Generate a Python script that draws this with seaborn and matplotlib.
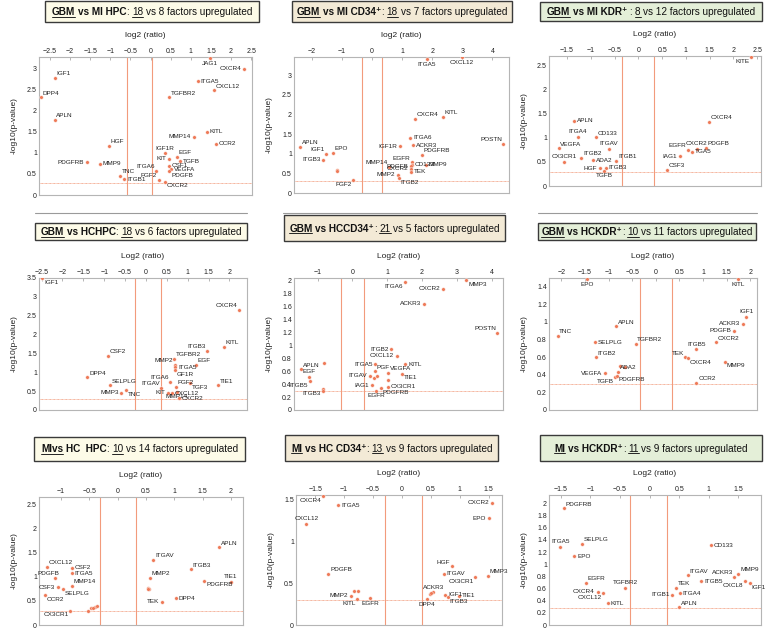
import numpy as np
import pandas as pd
import seaborn as sns
import matplotlib.pyplot as plt
from matplotlib.patches import Rectangle
from matplotlib.lines import Line2D
from matplotlib.ticker import FuncFormatter

W, H = 766, 631
FAM = ['Liberation Sans', 'DejaVu Sans']
PT_COLOR = '#ee7a58'
LINE_COLOR = '#f29b7c'
TS = 7.2

# ---------------- data ----------------
# panel 1: GBM vs MI HPC
p1_genes = ['JAG1', 'CXCR4', 'IGF1', 'ITGA5', 'DPP4', 'CXCL12', 'TGFBR2', 'APLN', 'MMP14', 'KITL',
            'CCR2', 'HGF', 'IGF1R', 'EGF', 'KIT', 'TGFB', 'CSF1', 'VEGFA', 'PDGFB', 'ITGA6',
            'PDGFRB', 'MMP9', 'TNC', 'ITGB1', 'FGF2', 'CXCR2']
p1_log2 = [1.47, 2.33, -2.38, 1.17, -2.72, 1.58, 0.47, -2.38, 1.08, 1.40,
           1.62, -1.04, 0.36, 0.65, 0.47, 0.73, 0.45, 0.51, 0.47, 0.14,
           -1.58, -1.26, -0.75, -0.65, 0.20, 0.35]
p1_logp = [3.26, 3.00, 2.78, 2.70, 2.32, 2.49, 2.32, 1.78, 1.39, 1.50,
           1.22, 1.17, 0.99, 0.90, 0.86, 0.80, 0.70, 0.61, 0.57, 0.58,
           0.78, 0.74, 0.46, 0.38, 0.36, 0.32]
p1_lab = ['b', 'l', 'ur', 'r', 'ur', 'ur', 'ur', 'ur', 'l', 'r',
          'r', 'ur', 'u', 'ur', 'l', 'r', 'r', 'r', 'br', 'ul',
          'l', 'r', 'ur', 'r', 'ul', 'br']

# panel 2: GBM vs MI CD34+
p2_genes = ['ITGA5', 'CXCL12', 'CXCR4', 'KITL', 'ITGA6', 'POSTN', 'APLN', 'IGF1R', 'ACKR3', 'IGF1',
            'EPO', 'PDGFRB', 'ITGB3', '', '', 'FGF2', 'EGFR', 'CD133', 'PDGFB', 'CXCR2',
            'MMP14', 'MMP9', 'TEK', 'MMP2', 'ITGB2']
p2_log2 = [1.82, 2.98, 1.41, 2.35, 1.27, 4.36, -2.40, 0.91, 1.37, -1.55,
           -1.30, 1.65, -1.62, -1.18, -1.16, -0.63, 1.31, 1.33, 1.29, 1.30,
           0.55, 1.79, 1.29, 0.85, 0.88]
p2_logp = [3.40, 3.46, 1.88, 1.94, 1.41, 1.25, 1.17, 1.19, 1.22, 0.99,
           1.03, 0.97, 0.84, 0.59, 0.56, 0.33, 0.78, 0.72, 0.68, 0.62,
           0.67, 0.72, 0.54, 0.46, 0.37]
p2_lab = ['b', 'b', 'ur', 'ur', 'r', 'ul', 'ur', 'l', 'r', 'ul',
          'ur', 'ur', 'l', '', '', 'bl', 'ul', 'r', 'l', 'l',
          'ul', 'r', 'r', 'l', 'br']

# panel 3: GBM vs MI KDR+
p3_genes = ['KITE', 'CXCR4', 'APLN', 'ITGA4', 'CD133', 'ITGAV', 'VEGFA', 'CX3CR1', 'ITGB2', 'ADA2',
            'ITGB1', 'HGF', 'ITGB3', 'TGFB', 'CXCR2', 'EGFR', 'PDGFB', 'TGA5', 'IAG1', 'CSF3']
p3_log2 = [2.38, 1.49, -1.35, -1.28, -0.90, -0.62, -1.68, -1.56, -1.20, -0.95,
           -0.46, -0.81, -0.68, -0.72, 1.23, 1.04, 1.42, 1.13, 0.88, 0.60]
p3_logp = [2.68, 1.33, 1.35, 1.02, 1.01, 0.77, 0.78, 0.50, 0.59, 0.54,
           0.52, 0.37, 0.38, 0.32, 0.77, 0.75, 0.79, 0.71, 0.62, 0.33]
p3_lab = ['bl', 'ur', 'r', 'u', 'ur', 'u', 'ur', 'u', 'ur', 'r',
          'ur', 'l', 'r', 'b', 'u', 'ul', 'ur', 'r', 'l', 'ur']

# panel 4: GBM vs HCHPC
p4_genes = ['IGF1', 'CXCR4', 'ITGB3', 'KITL', 'CSF2', 'TGFBR2', 'MMP2', 'ITGA5', 'EGF', 'GF1R',
            'DPP4', 'ITGA6', 'FGF2', 'TGF3', 'TIE1', 'SELPLG', 'ITGAV', 'MMP3', 'TNC', 'KIT',
            'CXCL12', 'MMP14', 'CXCR2']
p4_log2 = [-2.48, 2.23, 1.46, 1.86, -0.90, 0.68, 0.69, 0.70, 1.19, 0.70,
           -1.40, 0.58, 0.72, 1.06, 1.72, -0.86, 0.36, -0.59, -0.47, 0.54,
           0.62, 0.74, 0.78]
p4_logp = [3.49, 2.66, 1.56, 1.67, 1.44, 1.36, 1.20, 1.13, 1.20, 1.05,
           0.87, 0.75, 0.62, 0.71, 0.65, 0.65, 0.59, 0.46, 0.53, 0.46,
           0.44, 0.49, 0.31]
p4_lab = ['br', 'ul', 'ul', 'ur', 'ur', 'ur', 'ul', 'r', 'ur', 'br',
          'ur', 'ul', 'ur', 'br', 'ur', 'ur', 'ul', 'l', 'br', 'l',
          'r', 'b', 'r']

# panel 5: GBM vs HCCD34+
p5_genes = ['MMP3', 'ITGA6', 'CXCR2', 'ACKR3', 'POSTN', 'ITGB2', 'CXCL12', 'APLN', '', 'EGF',
            'ITGB5', 'ITGB3', '', 'KITL', 'ITGA5', 'PGF', 'VEGFA', 'ITGAV', '', '',
            'TIE1', '', 'IAG1', 'CX3CR1', 'PDGFRB', 'EGFR']
p5_log2 = [3.28, 1.50, 2.61, 2.06, 4.17, 1.12, 1.28, -1.47, -0.82, -1.25,
           -1.23, -0.86, -0.85, 1.52, 0.66, 0.64, 1.02, 0.50, 0.62, 0.70,
           1.44, 1.02, 0.55, 1.02, 0.83, 0.69]
p5_logp = [2.01, 1.98, 1.87, 1.64, 1.19, 0.94, 0.84, 0.63, 0.73, 0.51,
           0.45, 0.32, 0.30, 0.71, 0.71, 0.60, 0.57, 0.53, 0.50, 0.52,
           0.56, 0.47, 0.38, 0.36, 0.34, 0.30]
p5_lab = ['br', 'bl', 'l', 'l', 'ul', 'l', 'l', 'ur', '', 'u',
          'bl', 'bl', '', 'r', 'l', 'ur', 'ur', 'l', '', '',
          'br', '', 'l', 'r', 'br', 'b']

# panel 6: GBM vs HCKDR+
p6_genes = ['EPO', 'KITL', 'IGF1', 'ACKR3', 'PDGFB', 'APLN', 'TNC', 'CXCR2', 'SELPLG', 'TGFBR2',
            'ITGB5', 'ITGB2', 'TEK', 'CXCR4', 'MMP9', 'VEGFA', '', '', 'ADA2', 'TGFB',
            'PDGFRB', 'CCR2']
p6_log2 = [-1.46, 1.74, 1.91, 1.84, 1.66, -0.84, -2.08, 1.27, -1.28, -0.43,
           0.86, -1.27, 0.62, 0.69, 1.47, -1.08, -0.76, -0.65, -0.80, -0.86,
           -0.83, 0.86]
p6_logp = [1.49, 1.49, 1.06, 0.98, 0.90, 0.95, 0.84, 0.77, 0.77, 0.75,
           0.69, 0.60, 0.60, 0.59, 0.55, 0.42, 0.50, 0.49, 0.43, 0.37,
           0.39, 0.31]
p6_lab = ['b', 'b', 'u', 'l', 'l', 'ur', 'ur', 'ur', 'r', 'ur',
          'u', 'ur', 'ul', 'br', 'br', 'l', '', '', 'ur', 'bl',
          'br', 'ur']

# panel 7: MI vs HC HPC
p7_genes = ['APLN', 'ITGAV', 'ITGB3', 'CXCL12', 'CSF2', 'ITGA5', 'PDGFB', 'MMP2', 'TIE1', 'PDGFRB',
            'CSF3', 'MMP14', 'SELPLG', '', '', '', 'CCR2', 'DPP4', 'TEK', '',
            '', '', '', '', 'CX3CR1']
p7_log2 = [1.79, 0.63, 1.29, -1.25, -0.81, -0.81, -1.11, 0.56, 2.00, 1.53,
           -1.06, -0.81, -0.96, 0.53, 0.55, 0.54, -1.28, 1.03, 0.78, -0.53,
           -0.47, -0.41, -0.37, -0.44, -0.84]
p7_logp = [1.61, 1.35, 1.15, 1.21, 1.19, 1.07, 0.97, 0.97, 0.90, 0.92,
           0.78, 0.81, 0.74, 0.76, 0.74, 0.75, 0.62, 0.55, 0.48, 0.30,
           0.35, 0.38, 0.39, 0.36, 0.30]
p7_lab = ['ur', 'ur', 'ur', 'ur', 'r', 'r', 'uc', 'ur', 'u', 'br',
          'l', 'ur', 'br', '', '', '', 'br', 'r', 'l', '',
          '', '', '', '', 'bl']

# panel 8: MI vs HC CD34+
p8_genes = ['CXCR4', 'ITGA5', 'CXCL12', 'CXCR2', 'EPO', 'HGF', 'ITGAV', 'MMP3', 'CX3CR1', 'PDGFB',
            'ACKR3', '', '', 'IGF1', 'TIE1', 'ITGB3', 'DPP4', 'MMP2', '', '',
            'KITL', 'EGFR']
p8_log2 = [-1.36, -1.10, -1.65, 1.55, 1.50, 0.86, 0.72, 1.48, 1.27, -1.27,
           0.54, 0.49, 0.51, 0.75, 0.98, 0.79, 0.43, -0.88, -0.82, -0.76,
           -0.77, -0.55]
p8_logp = [1.54, 1.43, 1.21, 1.46, 1.27, 0.70, 0.61, 0.59, 0.57, 0.61,
           0.39, 0.37, 0.38, 0.36, 0.35, 0.33, 0.31, 0.35, 0.40, 0.41,
           0.31, 0.32]
p8_lab = ['bl', 'r', 'u', 'l', 'l', 'ul', 'r', 'ur', 'bl', 'ur',
          'u', '', '', 'r', 'r', 'br', 'b', 'l', '', '',
          'bl', 'b']

# panel 9: MI vs HCKDR+
p9_genes = ['PDGFRB', 'ITGA5', 'SELPLG', 'EPO', 'CD133', 'EGFR', 'TGFBR2', 'CXCR4', 'CXCL12', 'KITL',
            'ITGAV', 'ITGB5', 'ACKR3', 'MMP9', 'CXCL8', 'IGF1', 'TEK', 'ITGB1', 'ITGA4', 'APLN']
p9_log2 = [-1.45, -1.51, -1.14, -1.27, 1.04, -1.08, -0.41, -0.88, -0.78, -0.70,
           0.65, 0.87, 1.43, 1.50, 1.61, 1.69, 0.44, 0.38, 0.51, 0.50]
p9_logp = [1.92, 1.28, 1.34, 1.13, 1.31, 0.69, 0.61, 0.55, 0.52, 0.36,
           0.82, 0.72, 0.79, 0.84, 0.72, 0.69, 0.61, 0.50, 0.52, 0.29]
p9_lab = ['ur', 'u', 'ur', 'r', 'r', 'ur', 'u', 'l', 'bl', 'r',
          'ur', 'r', 'ul', 'ur', 'bl', 'br', 'ur', 'l', 'r', 'ur']

# title text pieces: (text, weight, underline)
B, N = 'bold', 'normal'
titles = [
    [('GBM', B, True), (' vs MI HPC', B, False), (':', N, False), (' 18', N, True), (' vs 8 factors upregulated', N, False)],
    [('GBM', B, True), (' vs MI CD34\u207a', B, False), (':', N, False), (' 18', N, True), (' vs 7 factors upregulated', N, False)],
    [('GBM', B, True), (' vs MI KDR\u207a', B, False), (' :', N, False), (' 8', N, True), (' vs 12 factors upregulated', N, False)],
    [('GBM', B, True), (' vs HCHPC', B, False), (':', N, False), (' 18', N, True), (' vs 6 factors upregulated', N, False)],
    [('GBM', B, True), (' vs HCCD34\u207a', B, False), (':', N, False), (' 21', N, True), (' vs 5 factors upregulated', N, False)],
    [('GBM', B, True), (' vs HCKDR\u207a', B, False), (':', N, False), (' 10', N, True), (' vs 11 factors upregulated', N, False)],
    [('MIvs', B, True), (' HC  HPC', B, False), (':', N, False), (' 10', N, True), (' vs 14 factors upregulated', N, False)],
    [('MI', B, True), (' vs HC CD34\u207a', B, False), (':', N, False), (' 13', N, True), (' vs 9 factors upregulated', N, False)],
    [('MI', B, True), (' vs HCKDR\u207a', B, False), (':', N, False), (' 11', N, True), (' vs 9 factors upregulated', N, False)],
]
xlabels = ['log2 (ratio)', 'log2 (ratio)', 'Log2 (ratio)', 'Log2 (ratio)', 'Log2 (ratio)',
           'Log2 (ratio)', 'Log2 (ratio)', 'Log2 (ratio)', 'Log2 (ratio)']

# ---------------- layout (pixels: left, top, right, bottom) ----------------
AX_BOX = [(39, 57, 252, 195), (294, 57, 509, 193), (549, 56, 761, 186),
          (39, 278, 247, 410), (294, 278, 503, 410), (549, 278, 757, 410),
          (39, 497, 243, 625), (296, 495, 502, 625), (549, 495, 761, 625)]
TITLE_BOX = [(45, 1, 259, 22), (292, 1, 512, 22), (540, 2, 762, 21),
             (35, 223, 247, 240), (284, 215, 505, 241), (538, 223, 756, 240),
             (34, 437, 245, 461), (285, 435, 498, 461), (540, 435, 762, 461)]
FACES = ['#fdfbe8', '#f3ead6', '#e4efd8'] * 3
XLIM = [(-2.77, 2.52), (-2.6, 4.55), (-1.88, 2.58), (-2.56, 2.42), (-1.68, 4.33),
        (-2.26, 2.14), (-1.39, 2.21), (-1.83, 1.73), (-1.70, 1.88)]
YLIM = [(0, 3.28), (0, 3.46), (0, 2.70), (0, 3.5), (0, 2.04), (0, 1.50), (0, 2.65), (0, 1.55), (0, 2.14)]
XTICKS = [np.arange(-2.5, 2.51, 0.5), np.arange(-2, 4.1, 1), np.arange(-1.5, 2.51, 0.5),
          np.arange(-2.5, 2.01, 0.5), np.arange(-1, 4.1, 1), np.arange(-2, 2.01, 0.5),
          np.arange(-1, 2.01, 0.5), np.arange(-1.5, 1.51, 0.5), np.arange(-1.5, 1.51, 0.5)]
YTICKS = [np.arange(0, 3.01, 0.5), np.arange(0, 3.01, 0.5), np.arange(0, 2.51, 0.5),
          np.arange(0, 3.51, 0.5), np.arange(0, 2.01, 0.2), np.arange(0, 1.41, 0.2),
          np.arange(0, 2.51, 0.5), np.arange(0, 1.51, 0.5), np.arange(0, 2.01, 0.2)]
VLINES = [(-0.58, 0.03), (-0.34, 0.33), (-0.34, 0.32), (-0.27, 0.36), (-0.34, 0.32),
          (-0.33, 0.34), (-0.31, 0.32), (-0.29, 0.35), (-0.34, 0.30)]
HLINE = [0.28, 0.31, 0.30, 0.29, 0.29, 0.30, 0.28, 0.30, 0.28]

PLACE = {'r': (2, 0, 'left', 'center'), 'l': (-2, 0, 'right', 'center'),
         'ur': (1.2, 1.2, 'left', 'bottom'), 'ul': (-1.0, 1.2, 'right', 'bottom'),
         'u': (0, 2, 'center', 'bottom'), 'b': (0, -2, 'center', 'top'),
         'br': (1.2, -1.2, 'left', 'top'), 'bl': (-1.2, -1.2, 'right', 'top'),
         'uc': (3, 1.2, 'right', 'bottom')}

panels = [(p1_genes, p1_log2, p1_logp, p1_lab), (p2_genes, p2_log2, p2_logp, p2_lab),
          (p3_genes, p3_log2, p3_logp, p3_lab), (p4_genes, p4_log2, p4_logp, p4_lab),
          (p5_genes, p5_log2, p5_logp, p5_lab), (p6_genes, p6_log2, p6_logp, p6_lab),
          (p7_genes, p7_log2, p7_logp, p7_lab), (p8_genes, p8_log2, p8_logp, p8_lab),
          (p9_genes, p9_log2, p9_logp, p9_lab)]

sns.set_theme(style='white')
plt.rcParams['font.family'] = FAM
plt.rcParams['axes.unicode_minus'] = True

fig = plt.figure(figsize=(W / 100, H / 100), dpi=100)
rend = fig.canvas.get_renderer()

fmt = FuncFormatter(lambda v, p: ('%g' % round(v, 2)).replace('-', '\u2212'))


def adv(s, weight):
    t = fig.text(0, 0, '|' + s + '|', fontsize=TS, weight=weight)
    a = t.get_window_extent(rend).width
    t.set_text('||')
    b = t.get_window_extent(rend).width
    t.remove()
    return a - b


def title_box(box, pieces, face):
    l, t, r, b = box
    fig.add_artist(Rectangle((l / W, 1 - b / H), (r - l) / W, (b - t) / H, transform=fig.transFigure,
                             facecolor=face, edgecolor='#3a3a3a', lw=1.0))
    widths = [adv(s, wt) for s, wt, u in pieces]
    x = (l + r) / 2 - sum(widths) / 2
    base = (t + b) / 2 + 3.5
    for (s, wt, u), w in zip(pieces, widths):
        lead = w - adv(s.lstrip(), wt)
        fig.text((x + lead) / W, 1 - base / H, s.strip(), fontsize=TS, weight=wt,
                 ha='left', va='baseline', color='#111111')
        if u:
            fig.add_artist(Line2D([(x + lead) / W, (x + w) / W], [1 - (base + 1.6) / H] * 2,
                                  transform=fig.transFigure, color='#222222', lw=0.7))
        x += w


def volcano(ax, genes, lfc, logp, where, i):
    df = pd.DataFrame({'gene': genes, 'log2': lfc, 'logp': logp})
    for v in VLINES[i]:
        ax.axvline(v, color=LINE_COLOR, lw=0.8, zorder=1)
    ax.axhline(HLINE[i], color=LINE_COLOR, lw=0.6, ls=(0, (1, 0.6)), zorder=1)
    sns.scatterplot(data=df, x='log2', y='logp', ax=ax, color=PT_COLOR, s=7,
                    edgecolor='white', linewidth=0.3, zorder=3, legend=False)
    for g, x, y, w in zip(genes, lfc, logp, where):
        if not g:
            continue
        dx, dy, ha, va = PLACE[w]
        ax.annotate(g, (x, y), xytext=(dx, dy), textcoords='offset points',
                    ha=ha, va=va, fontsize=4.6, color='#222222', zorder=4)
    ax.set_xlim(*XLIM[i])
    ax.set_ylim(*YLIM[i])
    ax.set_xticks(XTICKS[i])
    ax.set_yticks(YTICKS[i])
    ax.xaxis.set_major_formatter(fmt)
    ax.yaxis.set_major_formatter(fmt)
    ax.xaxis.tick_top()
    ax.xaxis.set_label_position('top')
    ax.set_xlabel(xlabels[i], fontsize=6, labelpad=8, color='#222222')
    ax.set_ylabel('-log10(p-value)', fontsize=6, labelpad=7, color='#222222')
    ax.tick_params(axis='both', labelsize=5, pad=1.5, length=2, width=0.5,
                   direction='in', color='#999999', labelcolor='#222222')
    for sp in ax.spines.values():
        sp.set_color('#b5b5b5')
        sp.set_linewidth(0.8)


for i, (genes, lfc, logp, where) in enumerate(panels):
    l, t, r, b = AX_BOX[i]
    ax = fig.add_axes([l / W, 1 - b / H, (r - l) / W, (b - t) / H])
    volcano(ax, genes, lfc, logp, where, i)
    title_box(TITLE_BOX[i], titles[i], FACES[i])

# thin separators under the first row
for x0, x1 in [(35, 247), (283, 505), (538, 757)]:
    fig.add_artist(Line2D([x0 / W, x1 / W], [1 - 213 / H] * 2, transform=fig.transFigure,
                          color='#9a9a9a', lw=0.8))

fig.savefig('out.png', dpi=100)
plt.close(fig)
